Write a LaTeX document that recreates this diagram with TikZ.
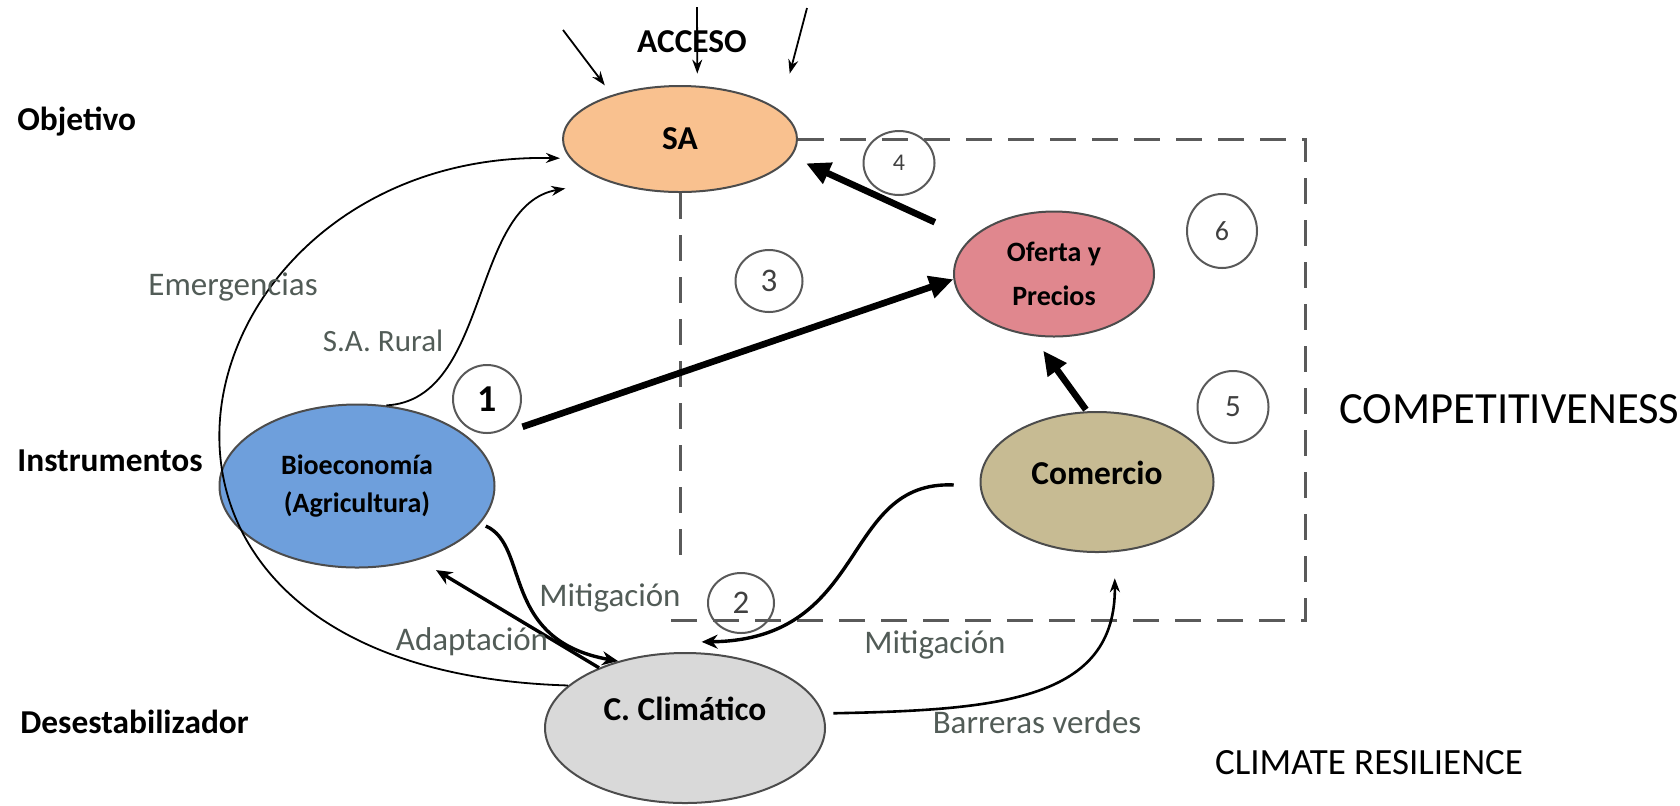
\documentclass[tikz,border=0pt]{standalone}
\usepackage{fontspec}
\setmainfont{Carlito}
\usetikzlibrary{arrows.meta,shapes.geometric}

\definecolor{saorange}{HTML}{F9C18F}
\definecolor{bioblue}{HTML}{6E9FDC}
\definecolor{ofpink}{HTML}{E0878E}
\definecolor{comkhaki}{HTML}{C7BB93}
\definecolor{climgray}{HTML}{D9D9D9}
\definecolor{lblgray}{HTML}{525C57}
\definecolor{dashgray}{HTML}{5A5A5A}

\tikzset{
  blob/.style={ellipse,draw=black!70,line width=1pt,inner sep=0pt,align=center,
    font=\bfseries\fontsize{16.7}{20}\selectfont},
  num/.style={ellipse,draw=black!65,line width=1pt,inner sep=0pt,text=black!75},
  side/.style={anchor=west,inner sep=0pt,font=\bfseries\fontsize{16.7}{20}\selectfont},
  lbl/.style={inner sep=0pt,text=lblgray,font=\fontsize{16.5}{20}\selectfont},
  thinarrow/.style={line width=0.9pt,-{Stealth[length=7pt,width=5pt]}},
  medarrow/.style={line width=1.7pt,-{Stealth[length=8pt,width=7pt]}},
  fatarrow/.style={line width=3.3pt,-{Triangle[length=12pt,width=11pt]}},
  frame/.style={dashgray,line width=1.5pt,dash pattern=on 13pt off 8pt}
}

\begin{document}
\begin{tikzpicture}[x=0.5pt,y=-0.5pt]
  \useasboundingbox (0,0) rectangle (1680,805);

  % side labels
  \node[side] (objetivo) at (17,122) {Objetivo};
  \node[side] (instr) at (17,461) {Instrumentos};
  \node[side] (desest) at (20,722) {Desestabilizador};

  % main ellipses
  \node[blob,fill=saorange,minimum width=117pt,minimum height=53pt] (sa) at (680,139) {SA};
  \node[blob,fill=bioblue,minimum width=137.5pt,minimum height=81.5pt,
    font=\bfseries\fontsize{14}{19}\selectfont] (bio) at (357,486) {Bioeconomía\\(Agricultura)};
  \node[blob,fill=ofpink,minimum width=100pt,minimum height=62.5pt,
    font=\bfseries\fontsize{14}{22}\selectfont] (ofer) at (1054,274) {Oferta y\\Precios};
  \node[blob,fill=comkhaki,minimum width=116.5pt,minimum height=70pt,
    text height=12pt,text depth=10pt] (com) at (1097,482) {Comercio};
  \node[blob,fill=climgray,minimum width=140pt,minimum height=75pt,
    text height=12pt,text depth=20pt] (clim) at (685,728) {C. Climático};

  % numbers
  \node[num,minimum size=34pt,text=black,
    font=\bfseries\fontsize{19}{19}\selectfont] (n1) at (487,399) {1};
  \node[num,minimum width=33pt,minimum height=30pt,font=\fontsize{16.5}{16}\selectfont] (n2) at (741,603) {2};
  \node[num,minimum width=33.5pt,minimum height=31pt,font=\fontsize{16.5}{16}\selectfont] (n3) at (769,281) {3};
  \node[num,minimum width=35.5pt,minimum height=32pt,font=\fontsize{12}{12}\selectfont] (n4) at (899,163) {4};
  \node[num,minimum width=35.5pt,minimum height=36pt,font=\fontsize{15.5}{15}\selectfont] (n5) at (1233,407) {5};
  \node[num,minimum width=35pt,minimum height=37pt,font=\fontsize{14}{14}\selectfont] (n6) at (1222,231) {6};

  % dashed frame
  \draw[frame] (sa.east) -- (1305,139) -- (1305,620) -- (665,620);
  \draw[frame] (sa.south) -- (680,565);

  % access
  \node[font=\bfseries\fontsize{16.7}{20}\selectfont] (acceso) at (692,42) {ACCESO};
  \coordinate (accL) at (563,30);
  \coordinate (accM) at (697,7);
  \coordinate (accR) at (807,8);
  \draw[thinarrow,shorten >=6pt] (accL) -- (sa.147);
  \draw[thinarrow,shorten >=6pt] (accM) -- (sa.72);
  \draw[thinarrow,shorten >=19pt] (accR) -- (sa.16);

  % links
  \draw[thinarrow,shorten >=5pt] (clim.160) .. controls (45,670) and (170,150) .. (sa.190);
  \draw[thinarrow,shorten >=21pt] (bio.70) .. controls (490,400) and (470,205) .. (sa.210);
  \draw[fatarrow,shorten <=25pt] (bio.20) -- (ofer.183);
  \draw[fatarrow,shorten <=19.5pt,shorten >=8pt] (ofer.157) -- (sa.-9);
  \draw[fatarrow,shorten <=1pt,shorten >=9pt] (com.98) -- (ofer.251);
  \draw[medarrow,shorten <=13pt,shorten >=7pt] (com.182) .. controls (840,480) and (870,640) .. ([yshift=5pt]clim.88);
  \draw[medarrow,shorten <=3pt] (bio.-17) .. controls (530,545) and (500,640) .. (clim.135);
  \draw[medarrow,shorten >=10pt] (clim.145) -- (bio.-50);
  \draw[thinarrow,line width=1.3pt,shorten <=5pt,shorten >=13pt] (clim.6) .. controls (1000,710) and (1116,700) .. (com.-76);

  % labels
  \node[lbl] (emerg) at (233,287) {Emergencias};
  \node[lbl,font=\fontsize{15.5}{20}\selectfont] (sarural) at (383,341) {S.A. Rural};
  \node[lbl] (mitigA) at (610,598) {Mitigación};
  \node[lbl] (adapt) at (472,642) {Adaptación};
  \node[lbl] (mitigB) at (935,645) {Mitigación};
  \node[lbl] (barreras) at (1037,722) {Barreras verdes};
  \node[anchor=west,inner sep=0pt,font=\fontsize{22.3}{22}\selectfont] (compet) at (1339,409) {COMPETITIVENESS};
  \node[inner sep=0pt,font=\fontsize{18.5}{20}\selectfont] (resil) at (1369,763) {CLIMATE RESILIENCE};
\end{tikzpicture}
\end{document}
